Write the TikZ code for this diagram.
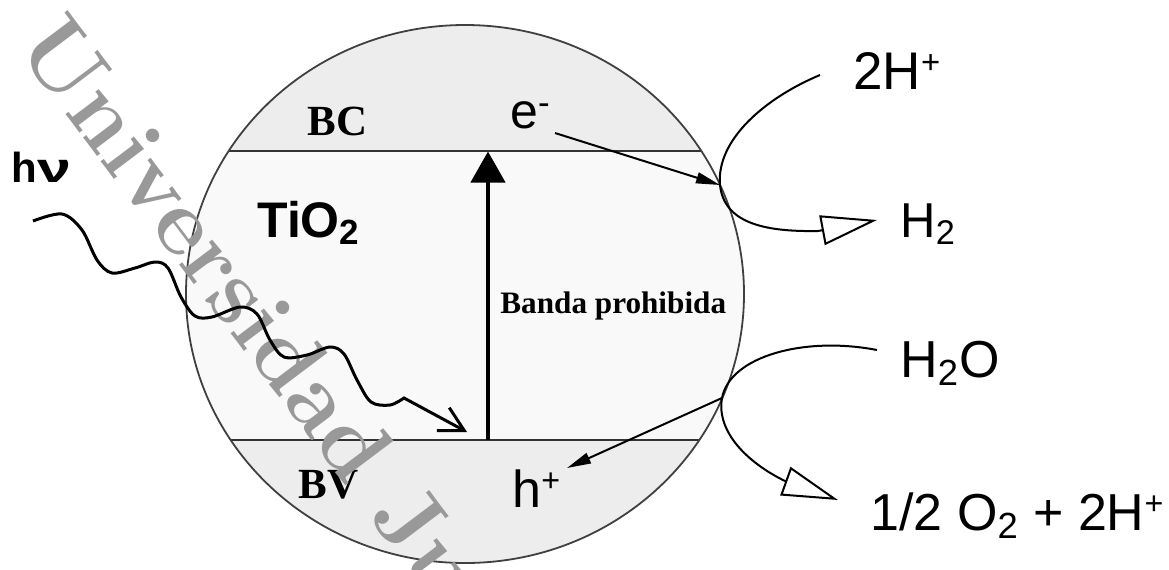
\documentclass[tikz,border=0pt]{standalone}
\usepackage{fontspec}
\usepackage{graphicx}
\newfontfamily\timesfont{Liberation Serif}
\setsansfont{Liberation Sans}
\usetikzlibrary{arrows.meta}
\newcommand{\upmark}[1]{\raisebox{0.3em}{\scalebox{0.62}{#1}}}
\newcommand{\upminus}{\raisebox{0.28em}{\scalebox{0.7}{-}}}
\begin{document}
\begin{tikzpicture}[x=0.5pt,y=-0.5pt,
  capfill/.style={fill=black!7},
  midfill/.style={fill=black!2.5},
  bandline/.style={draw=black!80, line width=1pt},
  outline/.style={draw=black!75, line width=0.9pt},
  gaparrow/.style={line width=2.2pt, -{Triangle[length=15.5pt,width=17pt]}},
  elec/.style={line width=1pt, -{Triangle[length=12pt,width=5.5pt]}},
  react/.style={line width=1pt, -{Triangle[length=28pt,width=15pt,fill=white]}},
  wavestyle/.style={line width=1.5pt, -{Straight Barb[length=12pt,width=13pt]}},
  lbl/.style={inner sep=0pt, anchor=base west, font=\sffamily\fontsize{26}{30}\selectfont},
  serifb/.style={inner sep=0pt, anchor=base west, font=\timesfont\bfseries\fontsize{21.5}{25}\selectfont},
  wm/.style={inner sep=0pt, anchor=base west, text=black!40, font=\rmfamily\bfseries\fontsize{47}{51}\selectfont}
]
\useasboundingbox (0,0) rectangle (1169,569);
\fill[white] (0,0) rectangle (1169,569);

% particle
\begin{scope}
  \clip (465,294) ellipse [x radius=139.5pt, y radius=134.5pt];
  \fill[midfill] (150,0) rectangle (800,569);
  \fill[capfill] (150,0) rectangle (800,151);
  \fill[capfill] (150,440) rectangle (800,569);
  \draw[bandline] (150,151) -- (800,151);
  \draw[bandline] (150,440) -- (800,440);
\end{scope}
\draw[outline] (465,294) ellipse [x radius=139.5pt, y radius=134.5pt];

% labels
\node[serifb] (bc) at (307,135) {BC};
\node[serifb] (bv) at (298,498) {BV};
\node[inner sep=0pt, anchor=base west, font=\timesfont\bfseries\fontsize{15.6}{18}\selectfont] (gap) at (500,313) {Banda prohibida};
\node[lbl, font=\sffamily\bfseries\fontsize{25}{30}\selectfont] (tio) at (257,237) {TiO\textsubscript{2}};
\node[lbl, font=\sffamily\bfseries\fontsize{21}{24}\selectfont] (hv) at (11,182) {h\scalebox{1.45}[1]{ν}};
\node[lbl, font=\sffamily\fontsize{25}{30}\selectfont] (em) at (510,128) {e\upminus};
\node[lbl] (hp) at (512,507) {h\upmark{+}};
\node[lbl, font=\sffamily\fontsize{26.5}{30}\selectfont] (hplus) at (853,89) {2H\upmark{+}};
\node[lbl, font=\sffamily\fontsize{24.5}{30}\selectfont] (htwo) at (900,237) {H\textsubscript{2}};
\node[lbl] (water) at (900,377) {H\textsubscript{2}O};
\node[lbl] (oxy) at (870,530) {1/2 O\textsubscript{2} + 2H\upmark{+}};

% watermark
\begin{scope}
  \clip (0,0) rectangle (1169,569);
  \node[wm, rotate=-53] (mark) at (14,46) {Universidad Ju};
\end{scope}

% coordinates
\coordinate (gapbot) at (488,440);
\coordinate (gaptop) at (488,151.5);
\coordinate (m1) at (720,185);
\coordinate (m2) at (722,398);
\coordinate (estart) at (555,133);
\coordinate (hend) at (567,468);
\coordinate (hsrc) at (820,75);
\coordinate (h2end) at (877,220);
\coordinate (wsrc) at (877,350);
\coordinate (oend) at (838,500);
\coordinate (w0) at (33,221);
\coordinate (wtip) at (467,432);

% band-gap arrow
\draw[gaparrow] (gapbot) -- (gaptop);

% electron and hole
\draw[elec] (estart) -- (m1);
\draw[elec] (m2) -- (hend);

% reduction
\draw[react] (hsrc) .. controls (765,98) and (716,140) .. (m1)
  .. controls (724,222) and (762,232) .. (818,231) -- (h2end);

% oxidation
\draw[react] (wsrc) .. controls (805,336) and (730,356) .. (m2)
  .. controls (716,432) and (748,463) .. (785,481) -- (oend);

% photon
\draw[wavestyle] plot[smooth, tension=0.55] coordinates {
  (w0) (62,214) (82,230) (97,260) (112,273) (135,268) (155,262) (168,268)
  (181,297) (195,316) (212,317) (240,307) (257,314) (270,340) (284,357)
  (307,355) (330,347) (344,354) (357,380) (371,402) (390,405) (404,398)}
  -- (wtip);
\end{tikzpicture}
\end{document}
